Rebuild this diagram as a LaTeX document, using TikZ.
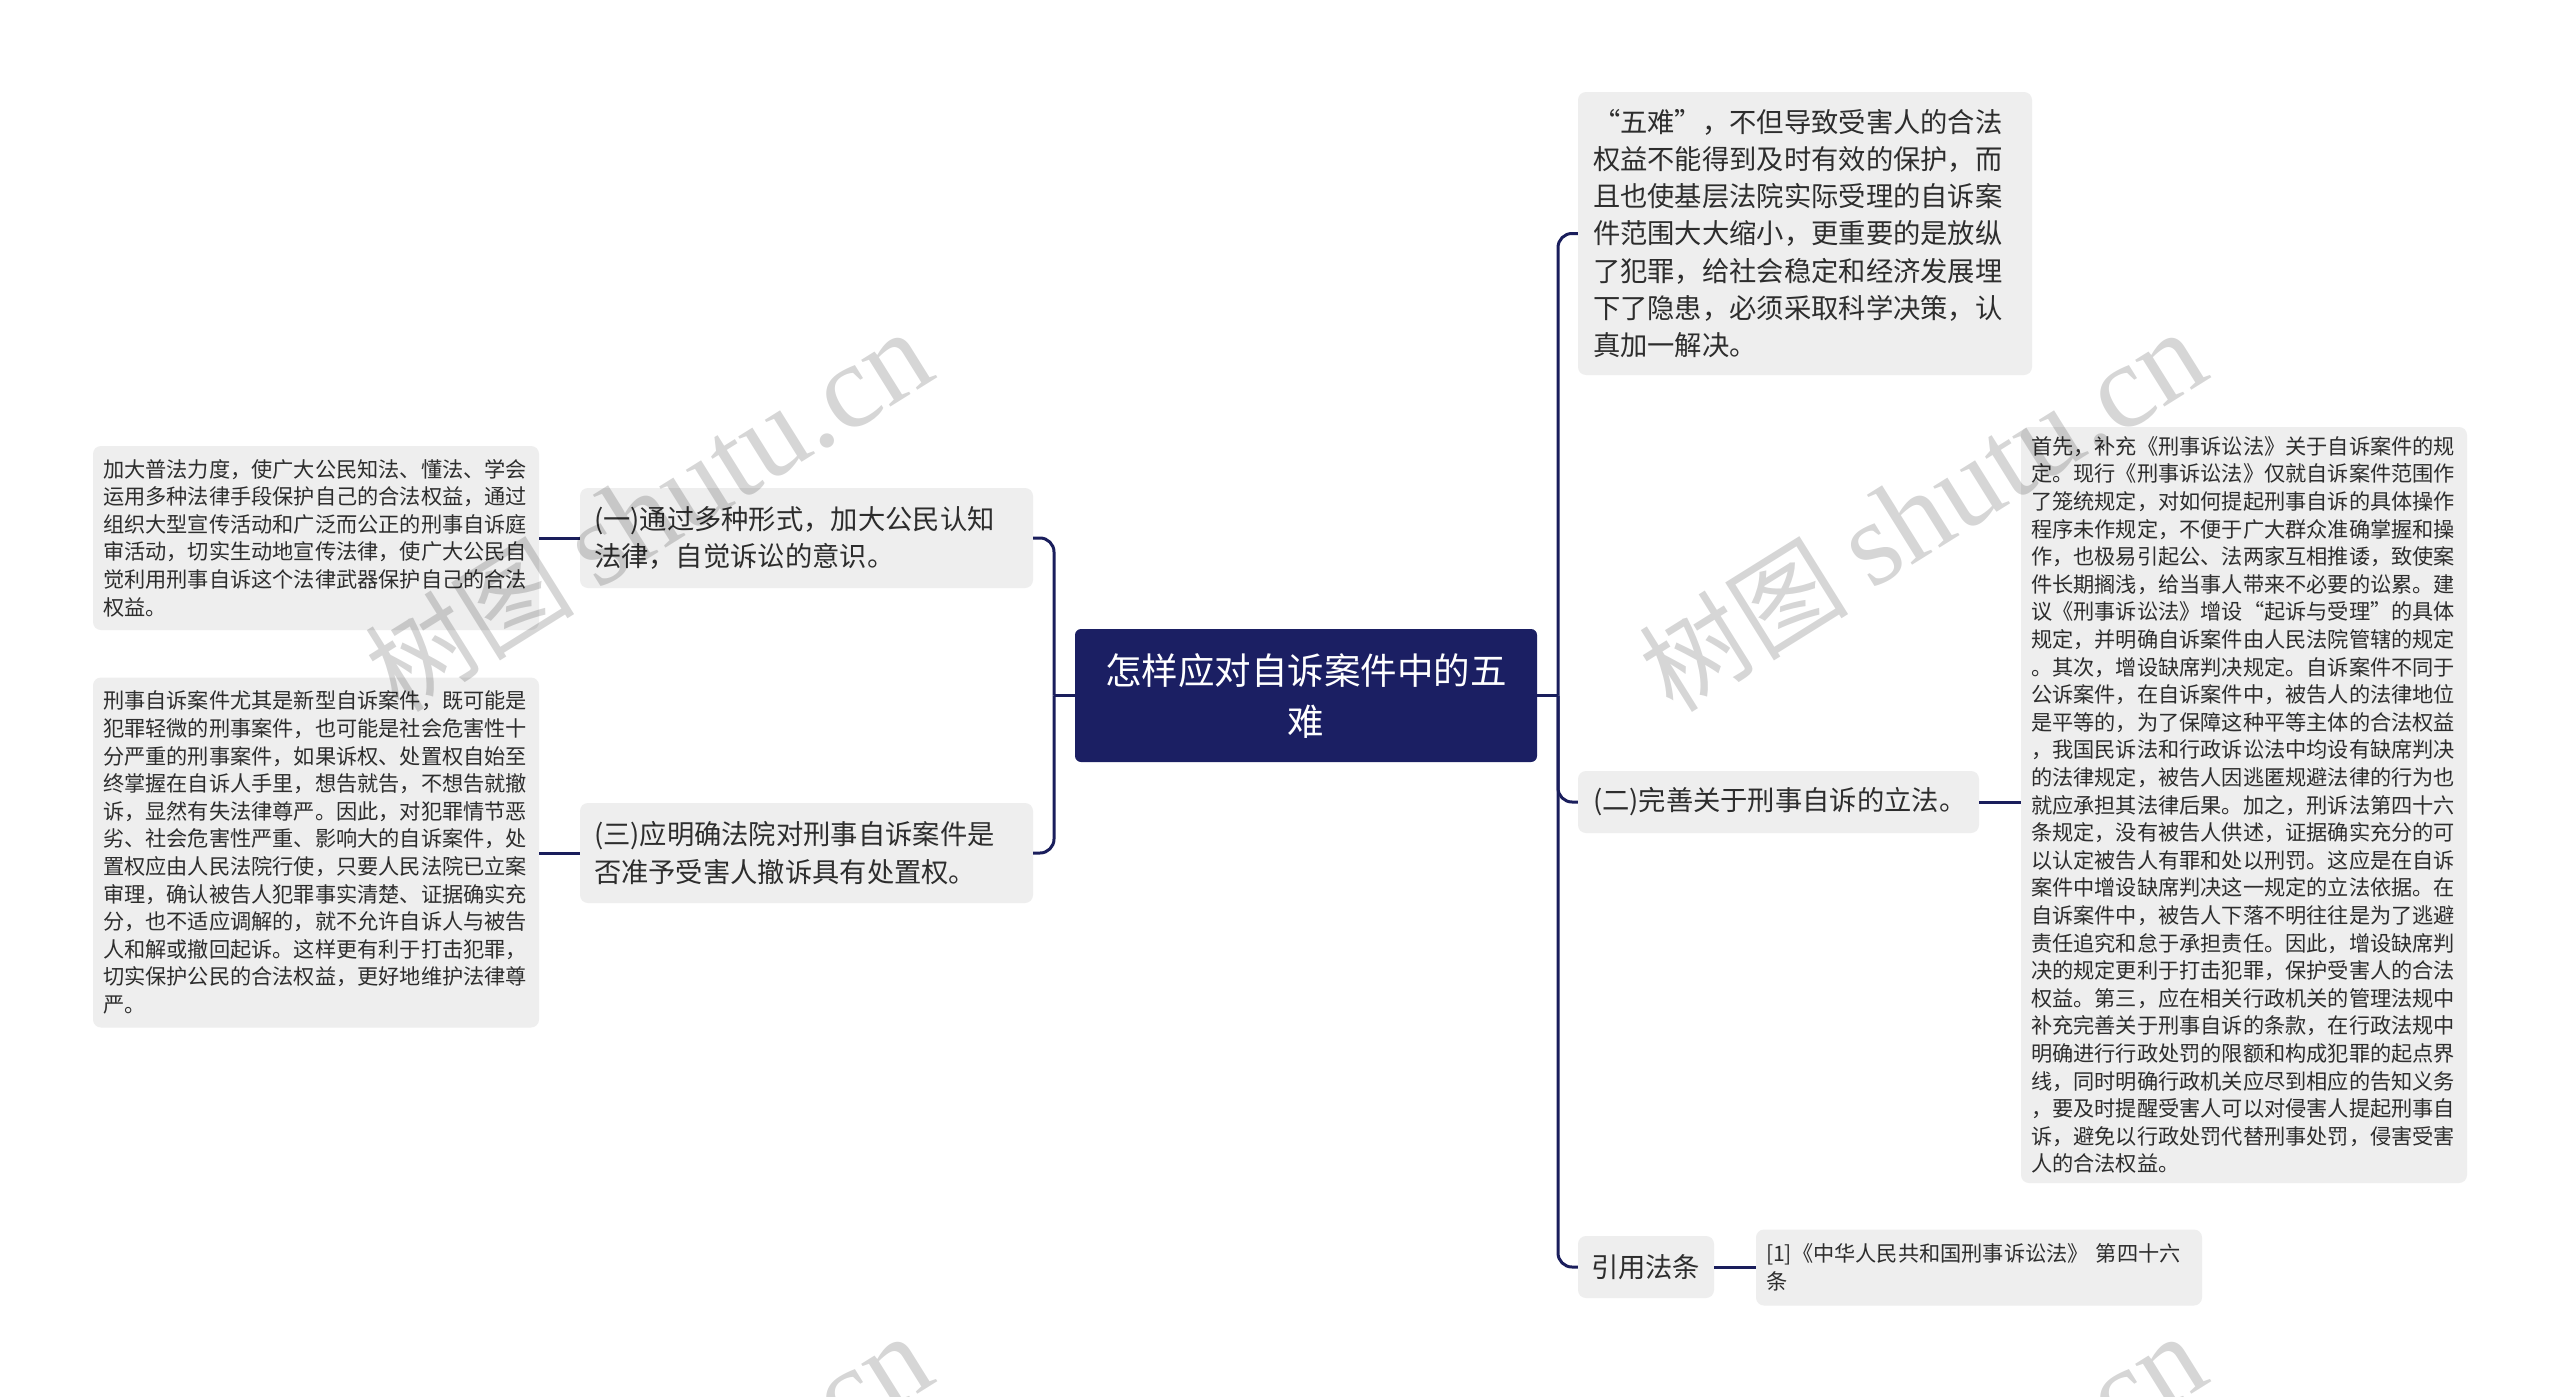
\documentclass[tikz,border=0pt]{standalone}
\usepackage{fontspec}
\setmainfont{Noto Sans CJK SC}
\newfontfamily\wmserif{Liberation Serif}
\usetikzlibrary{calc}
\definecolor{rootc}{RGB}{27,31,99}
\definecolor{linec}{RGB}{26,30,92}
\definecolor{boxc}{RGB}{238,238,238}
\definecolor{txtc}{RGB}{45,45,45}
\begin{document}
\begin{tikzpicture}[x=1pt,y=-1pt,
  box/.style={rectangle, rounded corners=8pt, fill=boxc, text=txtc, align=left, inner ysep=0pt},
  leafbox/.style={box, font=\fontsize{21.2}{27.6}\selectfont, text width=426pt, inner xsep=10pt},
  midbox/.style={box, font=\fontsize{27.3}{37.3}\selectfont, inner xsep=14pt},
  rootbox/.style={rectangle, rounded corners=6pt, fill=rootc, text=white, align=center,
    font=\fontsize{36.5}{51}\selectfont, text width=422pt, inner xsep=20pt, inner ysep=0pt, minimum height=133pt},
  conn/.style={draw=linec, line width=3pt},
  wm/.style={text=black, text opacity=0.16, inner sep=0pt}
]
\useasboundingbox (0,0) rectangle (2560,1397);
\fill[white] (0,0) rectangle (2560,1397);

% root
\node[rootbox] (root) at (1306,695.5) {怎样应对自诉案件中的五\\难};

% left branch
\node[midbox, text width=425pt, minimum height=100pt] (n1) at (806.5,538)
  {(一)通过多种形式，加大公民认知\\法律，自觉诉讼的意识。};
\node[midbox, text width=425pt, minimum height=100pt] (n3) at (806.5,853)
  {(三)应明确法院对刑事自诉案件是\\否准予受害人撤诉具有处置权。};

\node[leafbox, minimum height=184pt] (l1) at (316,538)
  {加大普法力度，使广大公民知法、懂法、学会\\
   运用多种法律手段保护自己的合法权益，通过\\
   组织大型宣传活动和广泛而公正的刑事自诉庭\\
   审活动，切实生动地宣传法律，使广大公民自\\
   觉利用刑事自诉这个法律武器保护自己的合法\\
   权益。};

\node[leafbox, minimum height=350pt] (l3) at (316,852.5)
  {刑事自诉案件尤其是新型自诉案件，既可能是\\
   犯罪轻微的刑事案件，也可能是社会危害性十\\
   分严重的刑事案件，如果诉权、处置权自始至\\
   终掌握在自诉人手里，想告就告，不想告就撤\\
   诉，显然有失法律尊严。因此，对犯罪情节恶\\
   劣、社会危害性严重、影响大的自诉案件，处\\
   置权应由人民法院行使，只要人民法院已立案\\
   审理，确认被告人犯罪事实清楚、证据确实充\\
   分，也不适应调解的，就不允许自诉人与被告\\
   人和解或撤回起诉。这样更有利于打击犯罪，\\
   切实保护公民的合法权益，更好地维护法律尊\\
   严。};

% right branch
\node[midbox, text width=424pt, inner xsep=15pt, minimum height=283pt] (r1) at (1805,233.5)
  {“五难”，不但导致受害人的合法\\
   权益不能得到及时有效的保护，而\\
   且也使基层法院实际受理的自诉案\\
   件范围大大缩小，更重要的是放纵\\
   了犯罪，给社会稳定和经济发展埋\\
   下了隐患，必须采取科学决策，认\\
   真加一解决。};

\node[midbox, text width=371pt, inner xsep=15pt, minimum height=62pt] (r2) at (1778.5,802)
  {(二)完善关于刑事自诉的立法。};

\node[leafbox, minimum height=756pt] (l2) at (2244,805)
  {首先，补充《刑事诉讼法》关于自诉案件的规\\
   定。现行《刑事诉讼法》仅就自诉案件范围作\\
   了笼统规定，对如何提起刑事自诉的具体操作\\
   程序未作规定，不便于广大群众准确掌握和操\\
   作，也极易引起公、法两家互相推诿，致使案\\
   件长期搁浅，给当事人带来不必要的讼累。建\\
   议《刑事诉讼法》增设“起诉与受理”的具体\\
   规定，并明确自诉案件由人民法院管辖的规定\\
   。其次，增设缺席判决规定。自诉案件不同于\\
   公诉案件，在自诉案件中，被告人的法律地位\\
   是平等的，为了保障这种平等主体的合法权益\\
   ，我国民诉法和行政诉讼法中均设有缺席判决\\
   的法律规定，被告人因逃匿规避法律的行为也\\
   就应承担其法律后果。加之，刑诉法第四十六\\
   条规定，没有被告人供述，证据确实充分的可\\
   以认定被告人有罪和处以刑罚。这应是在自诉\\
   案件中增设缺席判决这一规定的立法依据。在\\
   自诉案件中，被告人下落不明往往是为了逃避\\
   责任追究和怠于承担责任。因此，增设缺席判\\
   决的规定更利于打击犯罪，保护受害人的合法\\
   权益。第三，应在相关行政机关的管理法规中\\
   补充完善关于刑事自诉的条款，在行政法规中\\
   明确进行行政处罚的限额和构成犯罪的起点界\\
   线，同时明确行政机关应尽到相应的告知义务\\
   ，要及时提醒受害人可以对侵害人提起刑事自\\
   诉，避免以行政处罚代替刑事处罚，侵害受害\\
   人的合法权益。};

\node[midbox, text width=110pt, inner xsep=13pt, minimum height=62pt] (rc) at (1646,1267)
  {引用法条};

\node[leafbox, minimum height=76pt] (ref) at (1979,1267.5)
  {[1]《中华人民共和国刑事诉讼法》 第四十六\\条};

% connectors
\coordinate (sl) at (1054,695.5);
\coordinate (sr) at (1558,695.5);
\draw[conn] (root.west) -- (sl);
\draw[conn, rounded corners=14pt] (sl) |- (n1.east);
\draw[conn, rounded corners=14pt] (sl) |- (n3.east);
\draw[conn] (root.east) -- (sr);
\draw[conn, rounded corners=14pt] (sr) |- (r1.west);
\draw[conn, rounded corners=14pt] (sr) |- (r2.west);
\draw[conn, rounded corners=14pt] (sr) |- (rc.west);
\draw[conn] (n1.west) -- (n1.west -| l1.east);
\draw[conn] (n3.west) -- (n3.west -| l3.east);
\draw[conn] (r2.east) -- (r2.east -| l2.west);
\draw[conn] (rc.east) -- (rc.east -| ref.west);

% watermarks
\node[wm, rotate=32] (wm1) at (648,512) {\fontsize{105}{105}\selectfont 树图 {\wmserif\fontsize{120}{120}\selectfont shutu.cn}};
\node[wm, rotate=32] (wm2) at (1922,512) {\fontsize{105}{105}\selectfont 树图 {\wmserif\fontsize{120}{120}\selectfont shutu.cn}};
\node[wm, rotate=32] (wm3) at (648,1516) {\fontsize{105}{105}\selectfont 树图 {\wmserif\fontsize{120}{120}\selectfont shutu.cn}};
\node[wm, rotate=32] (wm4) at (1922,1516) {\fontsize{105}{105}\selectfont 树图 {\wmserif\fontsize{120}{120}\selectfont shutu.cn}};
\end{tikzpicture}
\end{document}
